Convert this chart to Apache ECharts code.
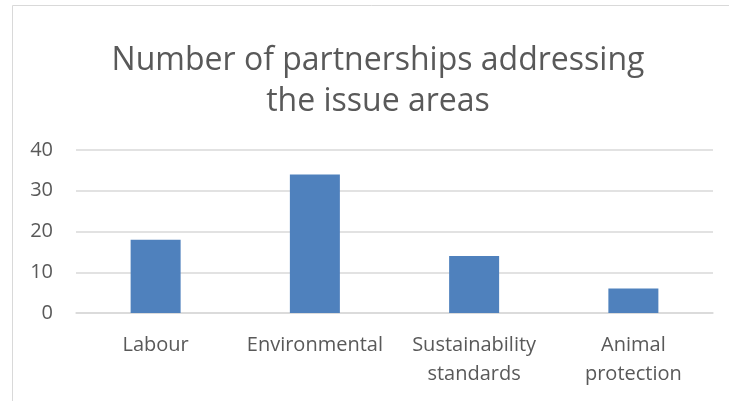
<!DOCTYPE html>
<html><head><meta charset="utf-8">
<script src="https://cdn.jsdelivr.net/npm/echarts@6/dist/echarts.min.js"></script>
<style>html,body{margin:0;padding:0;background:#fff}#c{width:729px;height:401px}</style>
</head><body><div id="c"></div>
<script>
const titleText = "Number of partnerships addressing\nthe issue areas";
const categories = ["Labour", "Environmental", "Sustainability\nstandards", "Animal\nprotection"];
const values = [18, 34, 14, 6];
const yTicks = [0, 10, 20, 30, 40];

const chart = echarts.init(document.getElementById('c'), null, {renderer: 'canvas'});
chart.setOption({
  animation: false,
  graphic: [{type: 'rect', shape: {x: 12.5, y: 5.5, width: 800, height: 500}, style: {fill: 'none', stroke: '#d9d9d9', lineWidth: 1}}],
  title: {
    text: titleText, left: 373, top: 35, textAlign: 'center',
    textStyle: {fontFamily: 'Open Sans', fontWeight: 'normal', fontSize: 32, color: '#595959', lineHeight: 41}
  },
  grid: {left: 76, right: 16, top: 150, bottom: 88},
  xAxis: {
    type: 'category', data: categories,
    axisLine: {lineStyle: {color: '#d9d9d9', width: 1.5}},
    axisTick: {show: false},
    axisLabel: {color: '#595959', fontFamily: 'Open Sans', fontSize: 20, margin: 18, lineHeight: 29, interval: 0}
  },
  yAxis: {
    type: 'value', min: yTicks[0], max: yTicks[yTicks.length - 1], interval: 10,
    axisLine: {show: false}, axisTick: {show: false},
    splitLine: {lineStyle: {color: '#d9d9d9', width: 1.5}},
    axisLabel: {color: '#595959', fontFamily: 'Open Sans', fontSize: 20, margin: 23}
  },
  series: [{type: 'bar', data: values, barWidth: '31.4%', itemStyle: {color: '#4f81bd'}}]
});
</script></body></html>
